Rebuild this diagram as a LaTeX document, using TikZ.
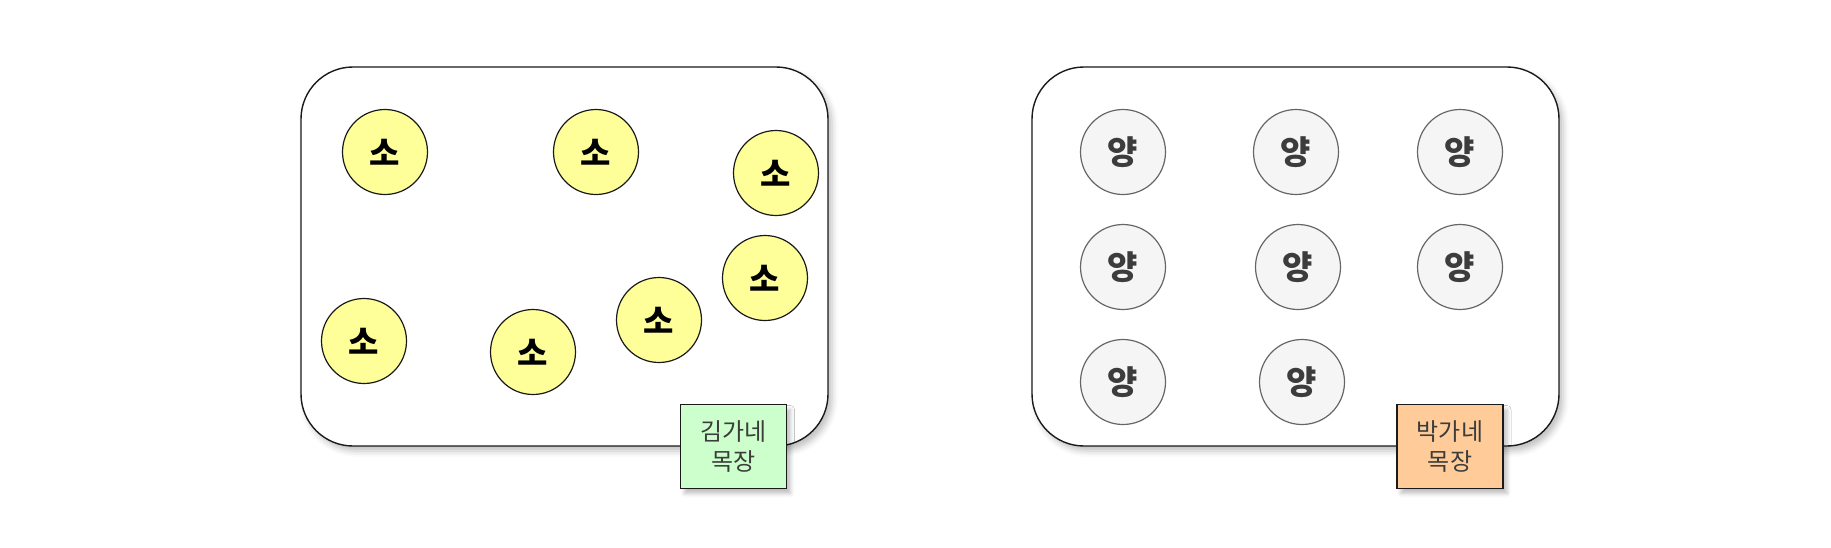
\documentclass[tikz,border=0pt]{standalone}
\usepackage{fontspec}
\setmainfont{Noto Sans CJK KR}
\usetikzlibrary{shadows.blur}
\definecolor{Ink}{HTML}{1A1A1A}
\definecolor{CowFill}{HTML}{FFFF99}
\definecolor{SheepFill}{HTML}{F5F5F5}
\definecolor{SheepLine}{HTML}{666666}
\definecolor{KimFill}{HTML}{CCFFCC}
\definecolor{ParkFill}{HTML}{FFCC99}

\begin{document}
\begin{tikzpicture}[x=0.5pt,y=-0.5pt,
  farm/.style={draw=Ink,fill=white,line width=0.7pt,rounded corners=26pt,
    blur shadow={shadow xshift=2pt,shadow yshift=-2.5pt,shadow opacity=25,shadow blur radius=3pt}},
  tag/.style={draw=Ink,line width=0.7pt,minimum width=53pt,minimum height=42pt,
    inner sep=0pt,align=center,font=\fontsize{12}{15}\selectfont,text=Ink!85,
    blur shadow={shadow xshift=2pt,shadow yshift=-2.5pt,shadow opacity=25,shadow blur radius=2pt}},
  cow/.style={circle,minimum size=42.5pt,inner sep=0pt,fill=CowFill,draw=Ink,line width=0.6pt,
    font=\fontsize{16.5}{16.5}\selectfont\bfseries,text=black},
  sheep/.style={circle,minimum size=42.5pt,inner sep=0pt,fill=SheepFill,draw=SheepLine,line width=0.6pt,
    font=\fontsize{16.5}{16.5}\selectfont\bfseries,text=Ink!85}]
\useasboundingbox (0,0) rectangle (1831,547);
% 김가네 목장
\draw[farm] (301,67) rectangle (828,446);
\node[cow] (cow1) at (385,152) {소};
\node[cow] (cow2) at (596,152) {소};
\node[cow] (cow3) at (776,173) {소};
\node[cow] (cow4) at (765,278) {소};
\node[cow] (cow5) at (659,320) {소};
\node[cow] (cow6) at (533,352) {소};
\node[cow] (cow7) at (364,341) {소};
\node[tag,fill=KimFill] (kimFarm) at (733.5,446.5) {김가네\\목장};
% 박가네 목장
\draw[farm] (1032,67) rectangle (1559,446);
\node[sheep] (sheep1) at (1123,152) {양};
\node[sheep] (sheep2) at (1296,152) {양};
\node[sheep] (sheep3) at (1460,152) {양};
\node[sheep] (sheep4) at (1123,267) {양};
\node[sheep] (sheep5) at (1298,267) {양};
\node[sheep] (sheep6) at (1460,267) {양};
\node[sheep] (sheep7) at (1123,382) {양};
\node[sheep] (sheep8) at (1302,382) {양};
\node[tag,fill=ParkFill] (parkFarm) at (1450,446.5) {박가네\\목장};
\end{tikzpicture}
\end{document}
